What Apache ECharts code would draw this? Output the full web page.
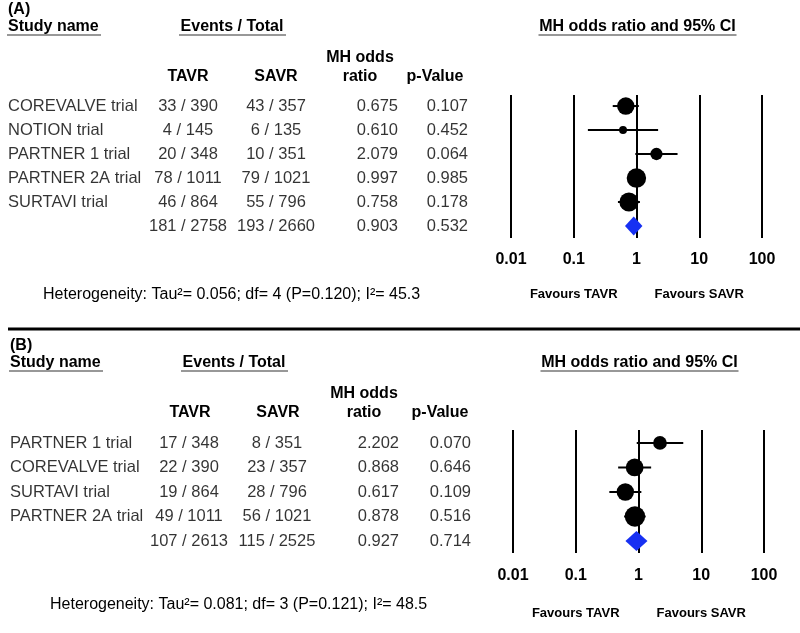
<!DOCTYPE html>
<html>
<head>
<meta charset="utf-8">
<script src="https://cdn.jsdelivr.net/npm/echarts@6/dist/echarts.min.js"></script>
<style>
  html, body { margin: 0; padding: 0; background: #fff; }
  #main { width: 800px; height: 633px; }
</style>
</head>
<body>
<div id="main"></div>
<script>
var FONT = '"Liberation Sans", Arial, Helvetica, sans-serif';

// ---- panel A data ----
var studiesA = ['COREVALVE trial', 'NOTION trial', 'PARTNER 1 trial', 'PARTNER 2A trial', 'SURTAVI trial'];
var tavrEventsA = [33, 4, 20, 78, 46];
var tavrTotalA = [390, 145, 348, 1011, 864];
var savrEventsA = [43, 6, 10, 79, 55];
var savrTotalA = [357, 135, 351, 1021, 796];
var oddsA = [0.675, 0.610, 2.079, 0.997, 0.758];
var lowerA = [0.418, 0.168, 0.958, 0.72, 0.506];
var upperA = [1.089, 2.21, 4.51, 1.38, 1.134];
var pA = [0.107, 0.452, 0.064, 0.985, 0.178];
var weightA = [24, 5, 12, 30, 29];
var pooledCountsA = [181, 2758, 193, 2660];
var pooledA = [0.903, 0.655, 1.244, 0.532]; // OR, lower, upper, p
var heteroA = 'Heterogeneity: Tau\u00b2= 0.056; df= 4 (P=0.120); I\u00b2= 45.3';

// ---- panel B data ----
var studiesB = ['PARTNER 1 trial', 'COREVALVE trial', 'SURTAVI trial', 'PARTNER 2A trial'];
var tavrEventsB = [17, 22, 19, 49];
var tavrTotalB = [348, 390, 864, 1011];
var savrEventsB = [8, 23, 28, 56];
var savrTotalB = [351, 357, 796, 1021];
var oddsB = [2.202, 0.868, 0.617, 0.878];
var lowerB = [0.937, 0.474, 0.343, 0.59];
var upperB = [5.17, 1.59, 1.11, 1.30];
var pB = [0.070, 0.646, 0.109, 0.516];
var weightB = [15, 25, 24, 33];
var pooledCountsB = [107, 2613, 115, 2525];
var pooledB = [0.927, 0.619, 1.39, 0.714];
var heteroB = 'Heterogeneity: Tau\u00b2= 0.081; df= 3 (P=0.121); I\u00b2= 48.5';

var axisTicks = ['0.01', '0.1', '1', '10', '100'];

var panels = [
  {
    tag: '(A)', studies: studiesA, te: tavrEventsA, tt: tavrTotalA, se: savrEventsA, st: savrTotalA,
    or: oddsA, lo: lowerA, hi: upperA, p: pA, w: weightA, pc: pooledCountsA, pooled: pooledA, hetero: heteroA,
    top: 95, height: 143, yMin: -0.46, yMax: 5.5, plotLeft: 511, shift: 0, margin: 14, diamondH: 9.5,
    yTag: 10, yHead: 27, yMH: 58, yCol: 77, yFav: 294, yHet: 295, xHet: 43
  },
  {
    tag: '(B)', studies: studiesB, te: tavrEventsB, tt: tavrTotalB, se: savrEventsB, st: savrTotalB,
    or: oddsB, lo: lowerB, hi: upperB, p: pB, w: weightB, pc: pooledCountsB, pooled: pooledB, hetero: heteroB,
    top: 430, height: 123, yMin: -0.53, yMax: 4.49, plotLeft: 513, shift: 2, margin: 15, diamondH: 10,
    yTag: 346, yHead: 363, yMH: 394, yCol: 413, yFav: 613, yHet: 605, xHet: 50
  }
];

var grids = [], xAxes = [], yAxes = [], series = [], graphics = [];

function txt(x, y, s, size, bold, align) {
  return {
    type: 'text', x: x, y: y, silent: true,
    style: {
      text: s, fill: '#000', font: (bold ? 'bold ' : '') + size + 'px ' + FONT,
      textAlign: align || 'left', align: align || 'left',
      textVerticalAlign: 'middle', verticalAlign: 'middle'
    }
  };
}
function rule(x1, x2, y, w, c) {
  return {
    type: 'line', silent: true,
    shape: { x1: x1, y1: y, x2: x2, y2: y },
    style: { stroke: c || '#333', lineWidth: w || 1.2 }
  };
}

function textColumn(idx, xPos, texts, align) {
  return {
    type: 'scatter', xAxisIndex: idx, yAxisIndex: idx, silent: true, animation: false,
    symbolSize: 1, itemStyle: { color: 'transparent' },
    data: texts.map(function (t, i) { return { name: t, value: [xPos, i] }; }),
    label: {
      show: true, position: 'inside', align: align, verticalAlign: 'middle',
      color: '#000', fontSize: 16.5, fontFamily: FONT,
      formatter: function (p) { return p.name; }
    }
  };
}

panels.forEach(function (P, k) {
  var n = P.studies.length;
  var tIdx = k * 2, fIdx = k * 2 + 1;
  var sh = P.shift;
  var plotW = 251;

  // table grid
  grids.push({ left: 0, top: P.top, width: 490, height: P.height });
  xAxes.push({ gridIndex: tIdx, type: 'value', min: 0, max: 490, show: false });
  yAxes.push({ gridIndex: tIdx, type: 'value', inverse: true, min: P.yMin, max: P.yMax, show: false });

  // forest grid
  grids.push({ left: P.plotLeft, top: P.top, width: plotW, height: P.height });
  xAxes.push({
    gridIndex: fIdx, type: 'log', logBase: 10, min: 0.01, max: 100,
    axisLine: { show: false }, axisTick: { show: false },
    splitLine: { show: true, lineStyle: { color: '#000', width: 2 } },
    axisLabel: {
      margin: P.margin, color: '#000', fontSize: 16, fontWeight: 'bold', fontFamily: FONT,
      formatter: function (v) {
        var s = String(+v.toPrecision(2));
        return axisTicks.indexOf(s) >= 0 ? s : '';
      }
    }
  });
  yAxes.push({ gridIndex: fIdx, type: 'value', inverse: true, min: P.yMin, max: P.yMax, show: false });

  // table columns (studies + pooled row)
  var names = P.studies.concat(['']);
  var tavr = P.te.map(function (e, i) { return e + ' / ' + P.tt[i]; }).concat([P.pc[0] + ' / ' + P.pc[1]]);
  var savr = P.se.map(function (e, i) { return e + ' / ' + P.st[i]; }).concat([P.pc[2] + ' / ' + P.pc[3]]);
  var ors = P.or.concat([P.pooled[0]]).map(function (v) { return v.toFixed(3); });
  var ps = P.p.concat([P.pooled[3]]).map(function (v) { return v.toFixed(3); });

  series.push(textColumn(tIdx, 8 + sh, names, 'left'));
  series.push(textColumn(tIdx, 188 + sh * 0.5, tavr, 'center'));
  series.push(textColumn(tIdx, 276 + sh * 0.5, savr, 'center'));
  series.push(textColumn(tIdx, 398 + sh * 0.5, ors, 'right'));
  series.push(textColumn(tIdx, 468 + sh * 1.5, ps, 'right'));

  // confidence intervals
  series.push({
    type: 'custom', xAxisIndex: fIdx, yAxisIndex: fIdx, silent: true, animation: false,
    data: P.lo.map(function (l, i) { return [l, P.hi[i], i]; }),
    encode: { x: [0, 1], y: 2 },
    renderItem: function (params, api) {
      var a = api.coord([api.value(0), api.value(2)]);
      var b = api.coord([api.value(1), api.value(2)]);
      return {
        type: 'line',
        shape: { x1: a[0], y1: a[1], x2: b[0], y2: b[1] },
        style: { stroke: '#000', lineWidth: 2 }
      };
    }
  });

  // study point estimates, sized by weight
  series.push({
    type: 'scatter', xAxisIndex: fIdx, yAxisIndex: fIdx, silent: true, animation: false,
    symbol: 'circle',
    data: P.or.map(function (v, i) { return { value: [v, i], symbolSize: Math.sqrt(P.w[i]) * 3.55 }; }),
    itemStyle: { color: '#000', opacity: 1 }
  });

  // pooled diamond
  var dh = P.diamondH;
  series.push({
    type: 'custom', xAxisIndex: fIdx, yAxisIndex: fIdx, silent: true, animation: false,
    data: [[P.pooled[0], P.pooled[1], P.pooled[2], n]],
    encode: { x: [0, 1, 2], y: 3 },
    renderItem: function (params, api) {
      var c = api.coord([api.value(0), api.value(3)]);
      var l = api.coord([api.value(1), api.value(3)]);
      var r = api.coord([api.value(2), api.value(3)]);
      return {
        type: 'polygon',
        shape: { points: [[l[0], c[1]], [c[0], c[1] - dh], [r[0], c[1]], [c[0], c[1] + dh]] },
        style: { fill: '#1730f2' }
      };
    }
  });

  // headers
  var dec = plotW / 4;
  var titleX = P.plotLeft + plotW / 2 + 1;
  graphics.push(txt(8 + sh, P.yTag, P.tag, 16, true, 'left'));
  graphics.push(txt(8 + sh, P.yHead, 'Study name', 16, true, 'left'));
  graphics.push(rule(7 + sh, 101 + sh, P.yHead + 8));
  graphics.push(txt(232 + sh, P.yHead, 'Events / Total', 16, true, 'center'));
  graphics.push(rule(179 + sh, 286 + sh, P.yHead + 8));
  graphics.push(txt(titleX, P.yHead, 'MH odds ratio and 95% CI', 16, true, 'center'));
  graphics.push(rule(titleX - 99, titleX + 99, P.yHead + 8));
  graphics.push(txt(360 + sh * 2, P.yMH, 'MH odds', 16, true, 'center'));
  graphics.push(txt(188 + sh, P.yCol, 'TAVR', 16, true, 'center'));
  graphics.push(txt(276 + sh, P.yCol, 'SAVR', 16, true, 'center'));
  graphics.push(txt(360 + sh * 2, P.yCol, 'ratio', 16, true, 'center'));
  graphics.push(txt(435 + sh * 2.5, P.yCol, 'p-Value', 16, true, 'center'));
  graphics.push(txt(P.plotLeft + dec, P.yFav, 'Favours TAVR', 13, true, 'center'));
  graphics.push(txt(P.plotLeft + dec * 3, P.yFav, 'Favours SAVR', 13, true, 'center'));
  graphics.push(txt(P.xHet, P.yHet, P.hetero, 16, false, 'left'));
});

// divider between the two panels
graphics.push(rule(8, 800, 329, 3, '#000'));

var myChart = echarts.init(document.getElementById('main'), null, { renderer: 'canvas' });
myChart.setOption({
  backgroundColor: '#fff',
  animation: false,
  grid: grids,
  xAxis: xAxes,
  yAxis: yAxes,
  series: series,
  graphic: { elements: graphics }
});
</script>
</body>
</html>
